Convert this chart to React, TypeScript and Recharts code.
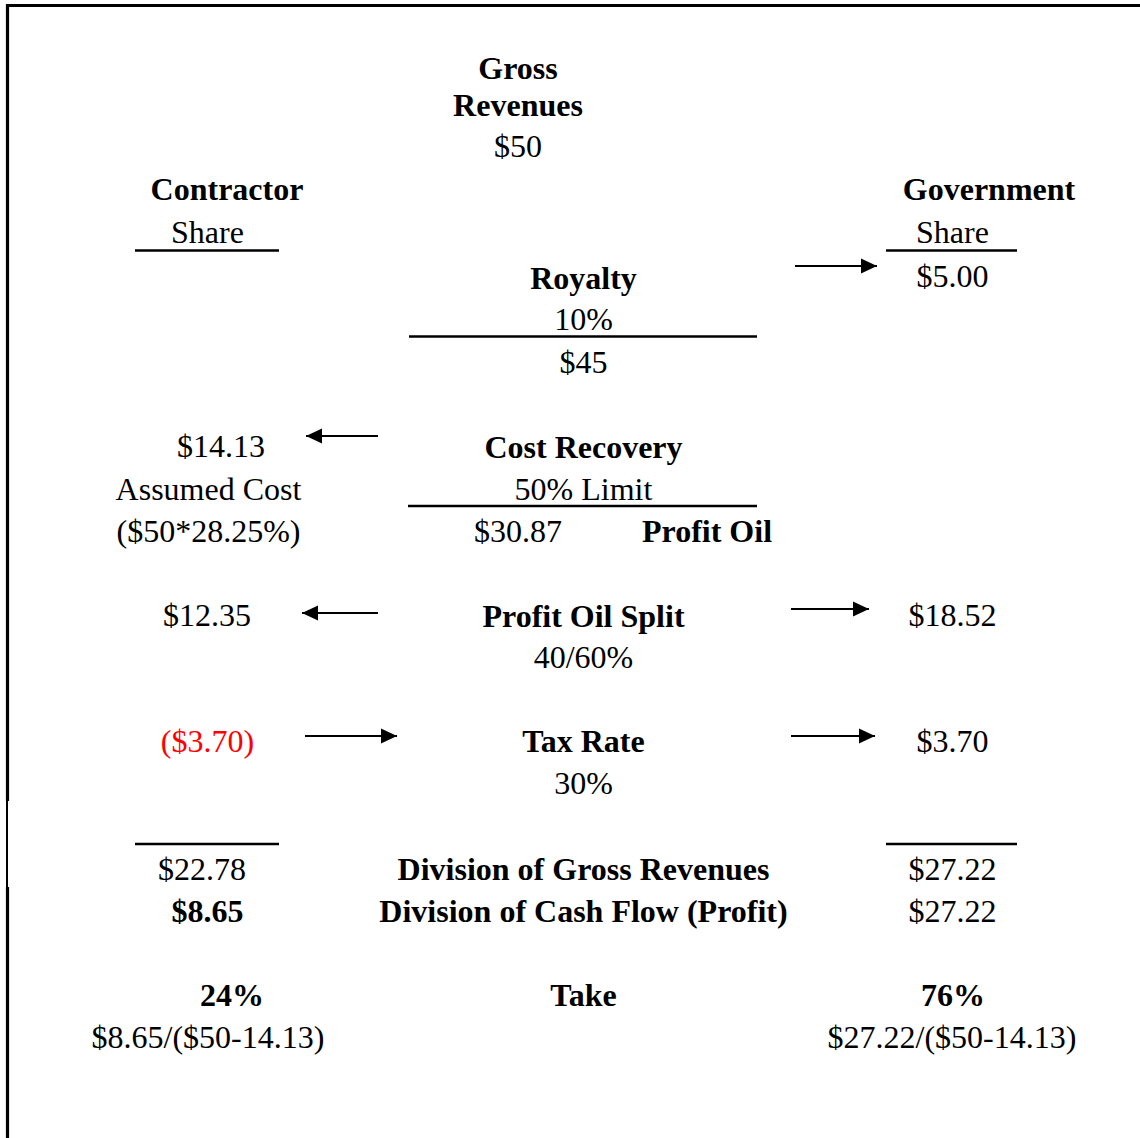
import React from "react";
import { ScatterChart, Scatter, XAxis, YAxis } from "recharts";

// Diagram coordinate space: x in [0,1140], y in [0,1138] (top-down)
type Label = { x: number; y: number; text: string; bold?: boolean; red?: boolean };

const headerLabels: Label[] = [
  { x: 518, y: 68, text: "Gross", bold: true },
  { x: 518, y: 105, text: "Revenues", bold: true },
  { x: 518, y: 146, text: "$50" },
  { x: 227, y: 189, text: "Contractor", bold: true },
  { x: 207.5, y: 232, text: "Share" },
  { x: 989, y: 189, text: "Government", bold: true },
  { x: 952.5, y: 232, text: "Share" },
];

const stepLabels: Label[] = [
  { x: 583.5, y: 278, text: "Royalty", bold: true },
  { x: 583.5, y: 319, text: "10%" },
  { x: 583.5, y: 362, text: "$45" },
  { x: 583.5, y: 447, text: "Cost Recovery", bold: true },
  { x: 583.5, y: 489, text: "50% Limit" },
  { x: 518, y: 531, text: "$30.87" },
  { x: 707, y: 531, text: "Profit Oil", bold: true },
  { x: 583.5, y: 616, text: "Profit Oil Split", bold: true },
  { x: 583.5, y: 657, text: "40/60%" },
  { x: 583.5, y: 741, text: "Tax Rate", bold: true },
  { x: 583.5, y: 783, text: "30%" },
  { x: 583.5, y: 869, text: "Division of Gross Revenues", bold: true },
  { x: 583.5, y: 911, text: "Division of Cash Flow (Profit)", bold: true },
  { x: 583.5, y: 995, text: "Take", bold: true },
];

const contractorLabels: Label[] = [
  { x: 221, y: 446, text: "$14.13" },
  { x: 208.5, y: 489, text: "Assumed Cost" },
  { x: 208.5, y: 531, text: "($50*28.25%)" },
  { x: 207, y: 615, text: "$12.35" },
  { x: 207.5, y: 741, text: "($3.70)", red: true },
  { x: 202, y: 869, text: "$22.78" },
  { x: 207.5, y: 911, text: "$8.65", bold: true },
  { x: 232, y: 995, text: "24%", bold: true },
  { x: 208, y: 1037, text: "$8.65/($50-14.13)" },
];

const governmentLabels: Label[] = [
  { x: 952.5, y: 276, text: "$5.00" },
  { x: 952.5, y: 615, text: "$18.52" },
  { x: 952.5, y: 741, text: "$3.70" },
  { x: 952.5, y: 869, text: "$27.22" },
  { x: 952.5, y: 911, text: "$27.22" },
  { x: 953, y: 995, text: "76%", bold: true },
  { x: 952, y: 1037, text: "$27.22/($50-14.13)" },
];

// Rules: [x1, x2, y]
const rules: [number, number, number][] = [
  [135, 279, 250.5],
  [886, 1017, 250.5],
  [409, 757, 336.5],
  [408, 757, 506],
  [135, 279, 844],
  [886, 1017, 844],
];

// Arrows: [tailX, headX, y]
const arrows: [number, number, number][] = [
  [795, 877, 266],
  [378, 306, 436],
  [378, 302, 613],
  [791, 869, 609],
  [305, 397, 736],
  [791, 875, 736],
];

// Frame: [x1, y1, x2, y2, weight]
const frame: [number, number, number, number, number][] = [
  [6, 5.5, 1140, 5.5, 3.2],
  [7.5, 4, 7.5, 801, 3.2],
  [7, 801, 7, 887, 2],
  [7.5, 887, 7.5, 1138, 3.2],
];

const FONT = "'Liberation Serif', 'Times New Roman', serif";

const allLabels = [...headerLabels, ...stepLabels, ...contractorLabels, ...governmentLabels];

const LabelShape = (props: any) => {
  const { cx, cy, payload } = props;
  return (
    <text
      x={cx}
      y={cy}
      dy="0.34em"
      textAnchor="middle"
      fontFamily={FONT}
      fontSize={32}
      fontWeight={payload.bold ? "bold" : "normal"}
      fill={payload.red ? "#ff0000" : "#000"}
    >
      {payload.text}
    </text>
  );
};

const Empty = () => <g />;

const ArrowHead = (props: any) => {
  const { cx, cy, payload } = props;
  if (!payload.head) return <g />;
  const d = payload.dir; // +1 right, -1 left
  const len = 16;
  const half = 7.5;
  return (
    <polygon
      points={`${cx},${cy} ${cx - d * len},${cy - half} ${cx - d * len},${cy + half}`}
      fill="#000"
    />
  );
};

export default function App() {
  return (
    <div style={{ position: "absolute", left: 0, top: 0, background: "#fff" }}>
      <ScatterChart width={1140} height={1138} margin={{ top: 0, right: 0, bottom: 0, left: 0 }}>
        <XAxis type="number" dataKey="x" domain={[0, 1140]} hide allowDataOverflow />
        <YAxis type="number" dataKey="y" domain={[0, 1138]} reversed hide allowDataOverflow />
        {frame.map(([x1, y1, x2, y2, w], i) => (
          <Scatter
            key={"f" + i}
            data={[{ x: x1, y: y1 }, { x: x2, y: y2 }]}
            line={{ stroke: "#000", strokeWidth: w }}
            shape={<Empty />}
            isAnimationActive={false}
          />
        ))}
        {rules.map(([x1, x2, y], i) => (
          <Scatter
            key={"r" + i}
            data={[{ x: x1, y }, { x: x2, y }]}
            line={{ stroke: "#000", strokeWidth: 2.6 }}
            shape={<Empty />}
            isAnimationActive={false}
          />
        ))}
        {arrows.map(([t, h, y], i) => {
          const dir = h > t ? 1 : -1;
          return (
            <Scatter
              key={"a" + i}
              data={[
                { x: t, y, head: false, dir },
                { x: h, y, head: true, dir },
              ]}
              line={{ stroke: "#000", strokeWidth: 2 }}
              shape={<ArrowHead />}
              isAnimationActive={false}
            />
          );
        })}
        <Scatter data={allLabels} shape={<LabelShape />} isAnimationActive={false} />
      </ScatterChart>
    </div>
  );
}
